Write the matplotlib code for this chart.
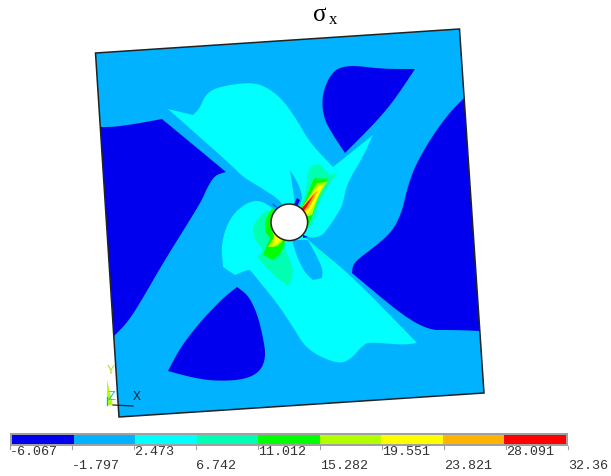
import math
import matplotlib
matplotlib.use("Agg")
import matplotlib.pyplot as plt
from matplotlib.patches import Polygon, Circle, Rectangle

# Contour levels and colours of the legend band
LEVELS = [-6.067, -1.797, 2.473, 6.742, 11.012, 15.282, 19.551, 23.821, 28.091, 32.36]
LEVEL_LABELS = ["-6.067", "-1.797", "2.473", "6.742", "11.012", "15.282", "19.551", "23.821", "28.091", "32.36"]
BAND_COLORS = ["#0000EE", "#00B2FF", "#00FFFF", "#00FFB2", "#00FF00", "#B2FF00", "#FFFF00", "#FFB200", "#FF0000"]

# Outlines of the stress regions in pixels
plate = [(95.5, 53), (459.5, 29), (484, 393), (119, 417)]
hole_center = (289.3, 222.3)
hole_radius = 18.3

dark_left = [(100, 127), (113, 127), (135, 124), (162, 119), (226, 172), (215, 175), (207, 188),
             (202, 200), (188, 223), (163, 263), (140, 303), (127, 323), (114, 336)]
dark_top = [(333, 70), (350, 65), (383, 69), (415, 69), (393, 102), (373, 125), (345, 153),
            (333, 135), (323, 117), (322, 93)]
dark_right = [(464, 98), (450, 112), (433, 135), (417, 162), (408, 185), (402, 212), (392, 232),
              (373, 248), (353, 263), (352, 273), (420, 330), (457, 330), (480, 331)]
dark_bottom = [(237, 287), (223, 298), (200, 322), (180, 348), (168, 371), (190, 377), (213, 381),
               (243, 380), (260, 372), (266, 357), (263, 337), (257, 313), (248, 295)]

cyan_upper = [(168, 109), (193, 115), (200, 108), (205, 95), (217, 87), (250, 82), (267, 87),
              (283, 100), (297, 120), (310, 143), (333, 167), (373, 135), (363, 157), (347, 183),
              (343, 203), (340, 210), (327, 230), (320, 237), (306, 238), (289, 222), (283, 202),
              (260, 187), (243, 177), (228, 162)]
cyan_lower = [(263, 200), (247, 202), (230, 217), (221, 243), (223, 267), (235, 275), (247, 270),
              (250, 270), (277, 303), (293, 327), (307, 350), (337, 364), (350, 360), (363, 345),
              (370, 342), (403, 345), (417, 343), (353, 277), (310, 242), (289, 222)]
blue_strip = [(290, 170), (298, 183), (303, 198), (299, 206), (295, 204), (292, 183)]
blue_finger = [(292, 240), (308, 240), (323, 268), (322, 278), (313, 280), (305, 273), (297, 257)]

spring_lower = [(267, 210), (253, 223), (253, 237), (263, 250), (257, 257), (273, 275), (288, 286),
                (293, 278), (292, 263), (283, 247), (289, 222)]
spring_upper = [(307, 173), (312, 165), (320, 164), (330, 175), (338, 172), (327, 188), (318, 205),
                (315, 220), (308, 228), (289, 222), (302, 205), (307, 187)]
spring_sliver = [(310, 243), (314, 245), (338, 270)]

green_lower = [(272, 208), (265, 220), (265, 232), (270, 238), (263, 255), (273, 260), (282, 252),
               (285, 242), (289, 222)]
green_upper = [(312, 182), (315, 178), (322, 179), (328, 178), (320, 193), (313, 213), (308, 227),
               (289, 222), (303, 207)]
lime_lower = [(270, 220), (272, 230), (275, 235), (268, 247), (277, 247), (285, 238), (289, 222)]
lime_upper = [(317, 183), (327, 182), (318, 197), (312, 215), (289, 222), (303, 207)]
yellow_lower = [(270, 223), (273, 233), (275, 240), (272, 246), (277, 244), (283, 238), (289, 222)]
yellow_upper = [(315, 188), (323, 185), (315, 203), (307, 217), (289, 222), (303, 208)]
orange_upper = [(312, 195), (318, 190), (310, 207), (304, 213), (289, 222), (302, 208)]
red_upper = [(315, 193), (308, 205), (303, 212), (289, 222), (302, 208), (312, 197)]

dark_tick_a = [(272, 203), (278, 208), (274, 206)]
dark_tick_b = [(297, 198), (300, 200), (297, 206), (294, 204)]
dark_tick_c = [(303, 235), (308, 237), (303, 238)]

triad_green = [(107, 380), (107, 405), (113, 405)]


def round_corners(points, passes=3, keep_turn=50):
    # Corner cutting so the contours look curved, sharp tips are left alone
    for _ in range(passes):
        new_points = []
        n = len(points)
        for i in range(n):
            x0, y0 = points[i - 1]
            x1, y1 = points[i]
            x2, y2 = points[(i + 1) % n]
            turn = math.degrees(math.atan2(y2 - y1, x2 - x1) - math.atan2(y1 - y0, x1 - x0))
            turn = abs((turn + 180) % 360 - 180)
            if turn > keep_turn:
                new_points.append((x1, y1))
            else:
                new_points.append((x1 + (x0 - x1) * 0.25, y1 + (y0 - y1) * 0.25))
                new_points.append((x1 + (x2 - x1) * 0.25, y1 + (y2 - y1) * 0.25))
        points = new_points
    return points


fig = plt.figure(figsize=(6.11, 4.76), dpi=100, facecolor="white")
ax = fig.add_axes([0, 0, 1, 1])
ax.set_xlim(0, 611)
ax.set_ylim(476, 0)
ax.axis("off")

# Triad behind the plate
ax.add_patch(Polygon(triad_green, closed=True, fc="#B2FF00", ec="none"))
ax.plot([107, 107], [397, 405], color="#00B2FF", lw=1)
ax.plot([113, 133], [405, 406], color="#222222", lw=0.9)
ax.text(111, 371, "Y", color="#B2E020", family="Liberation Mono", fontsize=9.5, ha="center", va="center")
ax.text(111, 397, "Z", color="#20B8F0", family="Liberation Mono", fontsize=9.5, ha="center", va="center")
ax.text(137, 397, "X", color="#103040", family="Liberation Mono", fontsize=9.5, ha="center", va="center")

# Plate and contour regions, lowest band first
clip = Polygon(plate, closed=True, transform=ax.transData)
ax.add_patch(Polygon(plate, closed=True, fc=BAND_COLORS[1], ec="none"))
regions = [
    (dark_left, BAND_COLORS[0]), (dark_top, BAND_COLORS[0]),
    (dark_right, BAND_COLORS[0]), (dark_bottom, BAND_COLORS[0]),
    (cyan_upper, BAND_COLORS[2]), (cyan_lower, BAND_COLORS[2]),
    (blue_strip, BAND_COLORS[1]), (blue_finger, BAND_COLORS[1]),
    (spring_lower, BAND_COLORS[3]), (spring_upper, BAND_COLORS[3]), (spring_sliver, BAND_COLORS[3]),
    (green_lower, BAND_COLORS[4]), (green_upper, BAND_COLORS[4]),
    (lime_lower, BAND_COLORS[5]), (lime_upper, BAND_COLORS[5]),
    (yellow_lower, BAND_COLORS[6]), (yellow_upper, BAND_COLORS[6]),
    (orange_upper, BAND_COLORS[7]), (red_upper, BAND_COLORS[8]),
    (dark_tick_a, BAND_COLORS[0]), (dark_tick_b, BAND_COLORS[0]), (dark_tick_c, BAND_COLORS[0]),
]
for outline, color in regions:
    patch = Polygon(round_corners(outline), closed=True, fc=color, ec="none")
    ax.add_patch(patch)
    patch.set_clip_path(clip)

ax.add_patch(Circle(hole_center, hole_radius, fc="white", ec="#222222", lw=1.1))
ax.add_patch(Polygon(plate, closed=True, fc="none", ec="#222222", lw=1.1))

# Title
ax.text(320, 15, "σ", family="Liberation Serif", fontsize=18, ha="center", va="center", color="black")
ax.text(333, 20, "x", family="Liberation Serif", fontsize=12, ha="center", va="center", color="black")

# Legend band under the plate
cax = fig.add_axes([12 / 611, 1 - 444 / 476, 554 / 611, 9 / 476])
cax.set_xlim(0, len(BAND_COLORS))
cax.set_ylim(0, 1)
cax.axis("off")
cax.bar(range(len(BAND_COLORS)), [1] * len(BAND_COLORS), width=1, align="edge", color=BAND_COLORS)
ax.add_patch(Rectangle((10, 433), 558, 13, fc="#A0A0A0", ec="none", zorder=0))

for i, label in enumerate(LEVEL_LABELS):
    x = 10 + i * 558 / (len(LEVELS) - 1)
    ax.plot([x, x], [446, 449], color="#A0A0A0", lw=0.8)
    y = 452 if i % 2 == 0 else 466
    ax.text(x, y, label, family="Liberation Mono", fontsize=9.6, ha="left", va="center", color="#333333")

fig.savefig("out.png", dpi=100)
